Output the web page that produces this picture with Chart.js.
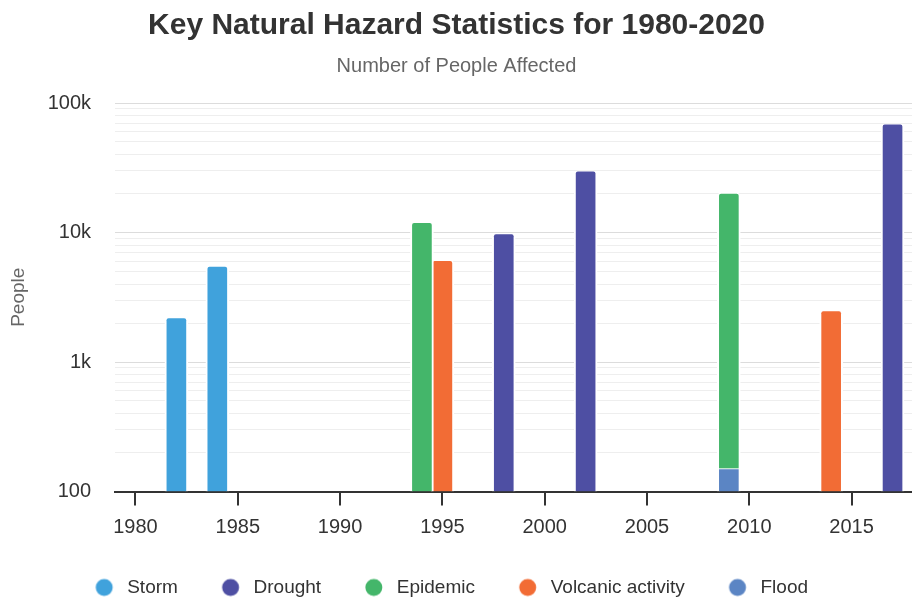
<!DOCTYPE html>
<html>
<head>
<meta charset="utf-8">
<script src="https://cdn.jsdelivr.net/npm/chart.js@4.4.1/dist/chart.umd.min.js"></script>
<style>
  html, body { margin: 0; padding: 0; background: #ffffff; overflow: hidden; }
  #wrap { width: 918px; height: 607px; }
</style>
</head>
<body>
<div id="wrap"><canvas id="chart" width="918" height="607"></canvas></div>
<script>
// Number of people affected per hazard and year
const stormYears = [1982, 1984];
const stormPeople = [2200, 5500];

const droughtYears = [1998, 2002, 2017];
const droughtPeople = [9800, 30000, 69000];

const epidemicYears = [1994, 2009];
const epidemicPeople = [12000, 20000];

const volcanicYears = [1995, 2014];
const volcanicPeople = [6100, 2500];

const floodYears = [2009];
const floodPeople = [150];

// Axis ticks
const yearTicks = [1980, 1985, 1990, 1995, 2000, 2005, 2010, 2015];
const peopleTicks = [100, 1000, 10000, 100000];
const peopleTickLabels = ['100', '1k', '10k', '100k'];

// Log grid: every 1..9 step inside each decade
const peopleGrid = [];
for (let i = 0; i < peopleTicks.length - 1; i++) {
  for (let m = 1; m <= 9; m++) peopleGrid.push(m * peopleTicks[i]);
}
peopleGrid.push(peopleTicks[peopleTicks.length - 1]);

const FONT = "'Liberation Sans', Arial, Helvetica, sans-serif";

function points(years, values) {
  return years.map((y, i) => ({ x: y, y: values[i] }));
}

// Round legend marker drawn into a small canvas
function dot(color) {
  const c = document.createElement('canvas');
  c.width = 44; c.height = 20;
  const g = c.getContext('2d');
  g.fillStyle = color;
  g.beginPath();
  g.arc(26.85, 10, 8.5, 0, Math.PI * 2);
  g.fill();
  return c;
}

// Nudge the legend row a little to the left
const legendShift = {
  id: 'legendShift',
  afterLayout(chart) {
    if (chart.legend) chart.legend.right -= 24;
  }
};

const barStyle = {
  barThickness: 23,
  borderColor: '#ffffff',
  borderWidth: { top: 1, left: 2, right: 2, bottom: 0 },
  borderRadius: 4,
  borderSkipped: 'start'
};

const datasets = [
  { label: 'Storm', data: points(stormYears, stormPeople), backgroundColor: '#40a2dc', ...barStyle },
  { label: 'Drought', data: points(droughtYears, droughtPeople), backgroundColor: '#4e4fa3', ...barStyle },
  { label: 'Epidemic', data: points(epidemicYears, epidemicPeople), backgroundColor: '#44b66a', ...barStyle },
  { label: 'Volcanic activity', data: points(volcanicYears, volcanicPeople), backgroundColor: '#f26c35', ...barStyle },
  { label: 'Flood', data: points(floodYears, floodPeople), backgroundColor: '#5b85c4', ...barStyle, borderRadius: 0, order: -1 }
];

new Chart(document.getElementById('chart'), {
  type: 'bar',
  data: { datasets },
  plugins: [legendShift],
  options: {
    responsive: false,
    animation: false,
    devicePixelRatio: 1,
    layout: { padding: { left: 0, right: 5, top: 0, bottom: 0 } },
    plugins: {
      tooltip: { enabled: false },
      title: {
        display: true,
        text: 'Key Natural Hazard Statistics for 1980-2020',
        color: '#333333',
        font: { family: FONT, size: 30, weight: 'bold', lineHeight: 1.2 },
        padding: { top: 8, bottom: 10.2 }
      },
      subtitle: {
        display: true,
        text: 'Number of People Affected',
        color: '#666666',
        font: { family: FONT, size: 20, lineHeight: 1.2 },
        padding: { top: 0, bottom: 24.8 }
      },
      legend: {
        position: 'bottom',
        labels: {
          usePointStyle: true,
          pointStyleWidth: 36.7,
          color: '#333333',
          font: { family: FONT, size: 19 },
          padding: 29.5,
          sort: (a, b) => a.datasetIndex - b.datasetIndex,
          generateLabels: (chart) => {
            const items = Chart.defaults.plugins.legend.labels.generateLabels(chart);
            items.forEach(it => { it.pointStyle = dot(it.fillStyle); it.lineWidth = 0; });
            return items;
          }
        }
      }
    },
    scales: {
      x: {
        type: 'linear',
        stacked: true,
        offset: false,
        min: 1979,
        max: 2018,
        afterBuildTicks: (s) => { s.ticks = yearTicks.map(v => ({ value: v })); },
        border: { display: true, color: '#333333', width: 2 },
        grid: { offset: false, drawOnChartArea: false, drawTicks: true, tickLength: 14, color: '#333333', lineWidth: 2 },
        ticks: {
          color: '#333333',
          font: { family: FONT, size: 20, lineHeight: 1.2 },
          padding: 9.5,
          autoSkip: false,
          maxRotation: 0,
          callback: (v) => String(v)
        }
      },
      y: {
        type: 'logarithmic',
        stacked: true,
        min: 100,
        max: 100000,
        afterBuildTicks: (s) => { s.ticks = peopleGrid.map(v => ({ value: v })); },
        afterFit: (s) => { s.width = 115; },
        border: { display: false },
        grid: {
          drawTicks: false,
          lineWidth: 1,
          color: (c) => (c.tick && peopleTicks.includes(c.tick.value)) ? '#dcdcdc' : '#eeeeee'
        },
        title: {
          display: true,
          text: 'People',
          color: '#666666',
          font: { family: FONT, size: 19, lineHeight: 1.2 },
          padding: { top: 7.6, bottom: 0 }
        },
        ticks: {
          color: '#333333',
          font: { family: FONT, size: 20 },
          padding: 24,
          autoSkip: false,
          callback: (v) => {
            const i = peopleTicks.indexOf(v);
            return i >= 0 ? peopleTickLabels[i] : '';
          }
        }
      }
    }
  }
});
</script>
</body>
</html>
